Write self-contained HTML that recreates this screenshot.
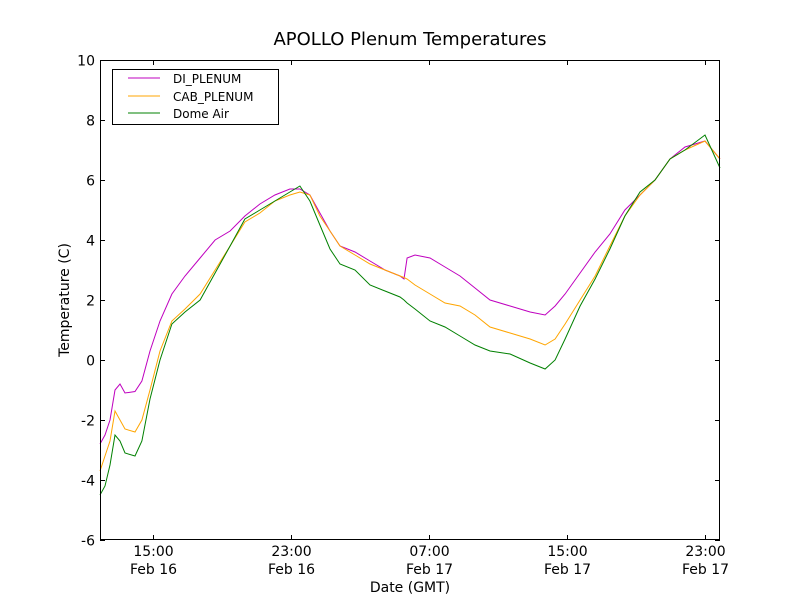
<!DOCTYPE html>
<html><head><meta charset="utf-8"><style>
html,body{margin:0;padding:0;background:#fff;}
svg{display:block;font-family:"DejaVu Sans","Liberation Sans",sans-serif;}
</style></head><body>
<svg id="chart" width="800" height="600">
<rect width="800" height="600" fill="#fff"/>
<text x="410" y="45" font-size="18" text-anchor="middle">APOLLO Plenum Temperatures</text>
<text x="410" y="592" font-size="14" text-anchor="middle">Date (GMT)</text>
<text transform="translate(69,300) rotate(-90)" font-size="14" text-anchor="middle">Temperature (C)</text>
<g id="plot"></g>
<g id="axes"></g>
<g>
<rect x="112.5" y="69.5" width="166" height="55" fill="#fff" stroke="#000" stroke-width="1"/>
<line x1="128" y1="78" x2="160" y2="78" stroke="#bf00bf"/>
<text x="173" y="83" font-size="12">DI_PLENUM</text>
<line x1="128" y1="96" x2="160" y2="96" stroke="#ffa500"/>
<text x="173" y="101" font-size="12">CAB_PLENUM</text>
<line x1="128" y1="113" x2="160" y2="113" stroke="#008000"/>
<text x="173" y="118" font-size="12">Dome Air</text>
</g>
</svg>
<script>
const times = [11.93,12.22,12.51,12.80,13.09,13.38,13.96,14.36,14.83,15.41,16.10,16.86,17.73,18.60,19.47,20.33,21.20,22.07,22.94,23.52,24.10,24.68,25.26,25.84,26.71,27.58,28.45,29.32,29.55,29.73,30.19,31.06,31.93,32.80,33.67,34.54,35.70,36.86,37.73,38.31,38.89,39.76,40.63,41.49,42.36,43.23,44.10,44.97,45.84,47.00,47.87];
const diPlenum = [-2.8,-2.5,-2.0,-1.0,-0.8,-1.1,-1.05,-0.7,0.3,1.3,2.2,2.8,3.4,4.0,4.3,4.8,5.2,5.5,5.7,5.7,5.5,4.9,4.3,3.8,3.6,3.3,3.0,2.8,2.7,3.4,3.5,3.4,3.1,2.8,2.4,2.0,1.8,1.6,1.5,1.8,2.2,2.9,3.6,4.2,5.0,5.5,6.0,6.7,7.1,7.3,6.7];
const cabPlenum = [-3.7,-3.2,-2.7,-1.7,-2.0,-2.3,-2.4,-2.0,-1.0,0.3,1.3,1.7,2.2,3.0,3.8,4.6,4.9,5.3,5.5,5.6,5.5,4.8,4.3,3.8,3.5,3.2,3.0,2.8,2.75,2.7,2.5,2.2,1.9,1.8,1.5,1.1,0.9,0.7,0.5,0.7,1.2,2.0,2.8,3.8,4.8,5.5,6.0,6.7,7.0,7.3,6.7];
const domeAir = [-4.5,-4.2,-3.5,-2.5,-2.7,-3.1,-3.2,-2.7,-1.3,0.0,1.2,1.6,2.0,2.9,3.8,4.7,5.0,5.3,5.6,5.8,5.3,4.5,3.7,3.2,3.0,2.5,2.3,2.1,2.0,1.9,1.7,1.3,1.1,0.8,0.5,0.3,0.2,-0.1,-0.3,0.0,0.7,1.8,2.7,3.7,4.8,5.6,6.0,6.7,7.0,7.5,6.4];
const yTicks = [-6,-4,-2,0,2,4,6,8,10];
const xTickHours = [15,23,31,39,47];
const xTickTimes = ["15:00","23:00","07:00","15:00","23:00"];
const xTickDates = ["Feb 16","Feb 16","Feb 17","Feb 17","Feb 17"];

const L=100,R=720,T=60,B=540, X0=11.93, X1=47.87, Y0=-6, Y1=10;
const xs = t => L + (t-X0)/(X1-X0)*(R-L);
const ys = v => B - (v-Y0)/(Y1-Y0)*(B-T);
const NS="http://www.w3.org/2000/svg";
const plot=document.getElementById('plot'), axes=document.getElementById('axes');
function mk(tag,attrs,parent){const e=document.createElementNS(NS,tag);for(const k in attrs)e.setAttribute(k,attrs[k]);parent.appendChild(e);return e;}

const series=[[diPlenum,'#bf00bf','di-plenum-line'],[cabPlenum,'#ffa500','cab-plenum-line'],[domeAir,'#008000','dome-air-line']];
series.forEach(s=>{
  const d=s[0].map((v,i)=>(i?'L':'M')+xs(times[i]).toFixed(1)+','+ys(v).toFixed(1)).join('');
  const p=mk('path',{d:d,fill:'none',stroke:s[1],'stroke-width':1},plot);
  
  
});

const frame=mk('rect',{x:L+0.5,y:T+0.5,width:R-L-1,height:B-T-1,fill:'none',stroke:'#000'},axes);



yTicks.forEach(v=>{
  const y=Math.round(ys(v))+0.5;
  mk('line',{x1:L,y1:y,x2:L+5,y2:y,stroke:'#000'},axes);
  mk('line',{x1:R-5,y1:y,x2:R,y2:y,stroke:'#000'},axes);
  const t=mk('text',{x:L-5,y:y+5,'font-size':14,'text-anchor':'end'},axes);
  t.textContent=String(v);
  
  
});
xTickHours.forEach((h,i)=>{
  const x=Math.round(xs(h))+0.5;
  mk('line',{x1:x,y1:B,x2:x,y2:B-5,stroke:'#000'},axes);
  mk('line',{x1:x,y1:T,x2:x,y2:T+5,stroke:'#000'},axes);
  const t1=mk('text',{x:x,y:556,'font-size':14,'text-anchor':'middle'},axes);
  t1.textContent=xTickTimes[i];
  
  
  const t2=mk('text',{x:x,y:574,'font-size':14,'text-anchor':'middle'},axes);
  t2.textContent=xTickDates[i];
  
  
});
</script>
</body></html>
